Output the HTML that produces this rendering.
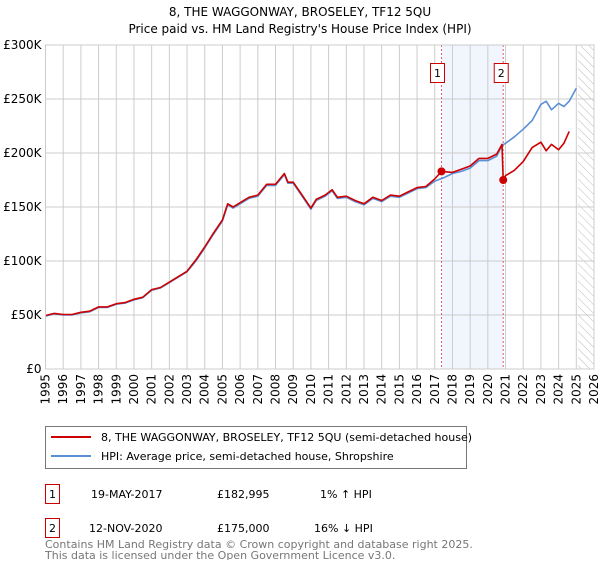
<!DOCTYPE html>
<html><head><meta charset="utf-8">
<style>
body{margin:0;background:#fff;width:600px;height:560px;overflow:hidden;font-family:"Liberation Sans","DejaVu Sans",sans-serif;}
svg text{font-family:"DejaVu Sans","Liberation Sans",sans-serif;}
</style></head>
<body>
<svg id="chart" width="600" height="560" viewBox="0 0 600 560">
<defs>
<pattern id="hatch" width="6" height="6" patternUnits="userSpaceOnUse" patternTransform="rotate(-45)">
<line x1="0" y1="0" x2="0" y2="6" stroke="#bbb" stroke-width="1"/>
</pattern>
</defs>
<text x="300" y="16" text-anchor="middle" font-size="12" fill="#000">8, THE WAGGONWAY, BROSELEY, TF12 5QU</text>
<text x="300" y="33" text-anchor="middle" font-size="12" fill="#000">Price paid vs. HM Land Registry's House Price Index (HPI)</text>
<g id="plot"></g>
<g>
<rect x="45.5" y="426.5" width="421" height="42" fill="#fff" stroke="#777" stroke-width="1"/>
<line x1="51" y1="437" x2="91" y2="437" stroke="#cc0000" stroke-width="2"/>
<text x="101" y="441" font-size="11">8, THE WAGGONWAY, BROSELEY, TF12 5QU (semi-detached house)</text>
<line x1="51" y1="456" x2="91" y2="456" stroke="#5b8fd4" stroke-width="2"/>
<text x="101" y="460" font-size="11">HPI: Average price, semi-detached house, Shropshire</text>
</g>
<g font-size="11">
<rect x="45.5" y="484.5" width="14" height="19" fill="#fff" stroke="#cc0000"/>
<text x="52.5" y="498" text-anchor="middle">1</text>
<text x="91" y="498">19-MAY-2017</text>
<text x="217" y="498">£182,995</text>
<text x="320" y="498">1% ↑ HPI</text>
<rect x="45.5" y="518.5" width="14" height="19" fill="#fff" stroke="#cc0000"/>
<text x="52.5" y="532" text-anchor="middle">2</text>
<text x="89" y="532">12-NOV-2020</text>
<text x="217" y="532">£175,000</text>
<text x="314" y="532">16% ↓ HPI</text>
</g>
<text x="45" y="548" font-size="11" fill="#777">Contains HM Land Registry data © Crown copyright and database right 2025.</text>
<text x="45" y="559" font-size="11" fill="#777">This data is licensed under the Open Government Licence v3.0.</text>
</svg>
<script>
const yTicks=[0,50000,100000,150000,200000,250000,300000];
const yTickLabels=["£0","£50K","£100K","£150K","£200K","£250K","£300K"];
const xYears=[1995,1996,1997,1998,1999,2000,2001,2002,2003,2004,2005,2006,2007,2008,2009,2010,2011,2012,2013,2014,2015,2016,2017,2018,2019,2020,2021,2022,2023,2024,2025,2026];
const hpiDates=[1995.0,1995.5,1996,1996.5,1997,1997.5,1998,1998.5,1999,1999.5,2000,2000.5,2001,2001.5,2002,2002.5,2003,2003.5,2004,2004.5,2005,2005.3,2005.6,2006,2006.5,2007,2007.5,2008,2008.5,2008.7,2009,2009.5,2010,2010.3,2010.8,2011.2,2011.5,2012,2012.5,2013,2013.5,2014,2014.5,2015,2015.5,2016,2016.5,2017,2017.5,2018,2018.5,2019,2019.5,2020,2020.5,2020.8,2021,2021.5,2022,2022.5,2023,2023.3,2023.6,2024,2024.3,2024.6,2025];
const hpiValues=[49000,51000,50000,50000,52000,53000,57000,57000,60000,61000,64000,66000,73000,75000,80000,85000,90000,100000,112000,125000,137000,152000,149000,153000,158000,160000,170000,170000,180000,172000,172000,160000,148000,156000,160000,165000,158000,159000,155000,152000,158000,155000,160000,159000,163000,167000,168000,174000,177000,181000,183000,186000,193000,193000,197000,207000,209000,215000,222000,230000,245000,248000,240000,246000,243000,248000,260000];
const priceDates=[1995.0,1995.5,1996,1996.5,1997,1997.5,1998,1998.5,1999,1999.5,2000,2000.5,2001,2001.5,2002,2002.5,2003,2003.5,2004,2004.5,2005,2005.3,2005.6,2006,2006.5,2007,2007.5,2008,2008.5,2008.7,2009,2009.5,2010,2010.3,2010.8,2011.2,2011.5,2012,2012.5,2013,2013.5,2014,2014.5,2015,2015.5,2016,2016.5,2017,2017.38,2018,2018.5,2019,2019.5,2020,2020.5,2020.8,2020.87,2021,2021.5,2022,2022.5,2023,2023.3,2023.6,2024,2024.3,2024.6,2025];
const priceValues=[49500,51500,50500,50500,52500,53500,57500,57500,60500,61500,64500,66500,73500,75500,80500,85500,90500,101000,113000,126000,138000,153000,150000,154000,159000,161000,171000,171000,181000,173000,173000,161000,149000,157000,161000,166000,159000,160000,156000,153000,159000,156000,161000,160000,164000,168000,169000,176000,182995,182000,185000,188000,195000,195000,199000,208000,175000,179000,184000,192000,205000,210000,202000,208000,203000,209000,220000];
const saleDates=[2017.38,2020.87];
const salePrices=[182995,175000];
const saleLabels=["1","2"];

const X0=45.5,X1=594,Y0=369,Y1=45;
const xs=v=>X0+(v-1995)/(2026-1995)*(X1-X0);
const ys=v=>Y0-(v/300000)*(Y0-Y1);
const NS="http://www.w3.org/2000/svg";
const g=document.getElementById('plot');
function mk(tag,attrs){const e=document.createElementNS(NS,tag);for(const k in attrs)e.setAttribute(k,attrs[k]);g.appendChild(e);return e;}

let band=mk('rect',{x:xs(saleDates[0]),y:Y1,width:xs(saleDates[1])-xs(saleDates[0]),height:Y0-Y1,fill:'#eef3fc',opacity:0.8});


let hat=mk('rect',{x:xs(2025.1),y:Y1,width:X1-xs(2025.1),height:Y0-Y1,fill:'url(#hatch)'});



yTicks.forEach((t,i)=>{
  let l=mk('line',{x1:X0,x2:X1,y1:ys(t),y2:ys(t),stroke:'#ccc','stroke-width':1});
  
  
  let tx=mk('text',{x:X0-4,y:ys(t)+4,'text-anchor':'end','font-size':12,fill:'#000'});
  tx.textContent=yTickLabels[i];
  
  
});
xYears.forEach(yr=>{
  let l=mk('line',{x1:xs(yr),x2:xs(yr),y1:Y1,y2:Y0,stroke:'#ccc','stroke-width':1});
  
  
  let tx=mk('text',{x:0,y:0,'text-anchor':'end','font-size':12,fill:'#000',transform:`translate(${xs(yr)+4},${Y0+5}) rotate(-90)`});
  tx.textContent=yr;
  
  
});
saleDates.forEach((d,i)=>{
  let l=mk('line',{x1:xs(d),x2:xs(d),y1:Y1,y2:Y0,stroke:'#e06060','stroke-width':1,'stroke-dasharray':'2,2'});
  
  
});
function path(dates,vals,color,name){
  let d=dates.map((t,i)=>(i?'L':'M')+xs(t).toFixed(1)+','+ys(vals[i]).toFixed(1)).join('');
  let p=mk('path',{d:d,fill:'none',stroke:color,'stroke-width':1.6,'stroke-linejoin':'round'});
  
  
}
path(hpiDates,hpiValues,'#5b8fd4','hpi-line');
path(priceDates,priceValues,'#cc0000','price-paid-line');
saleDates.forEach((d,i)=>{
  let c=mk('circle',{cx:xs(d),cy:ys(salePrices[i]),r:4,fill:'#cc0000'});
  
  
  let bx=xs(d)-7-(i?2:4);
  let r=mk('rect',{x:bx,y:63.5,width:14,height:19,fill:'#fff',stroke:'#cc0000'});
  
  
  let t=mk('text',{x:bx+7,y:77,'text-anchor':'middle','font-size':11});
  t.textContent=saleLabels[i];
  
  
});
let ax=mk('rect',{x:X0,y:Y1,width:X1-X0,height:Y0-Y1,fill:'none',stroke:'#ccc'});


</script>
</body></html>
